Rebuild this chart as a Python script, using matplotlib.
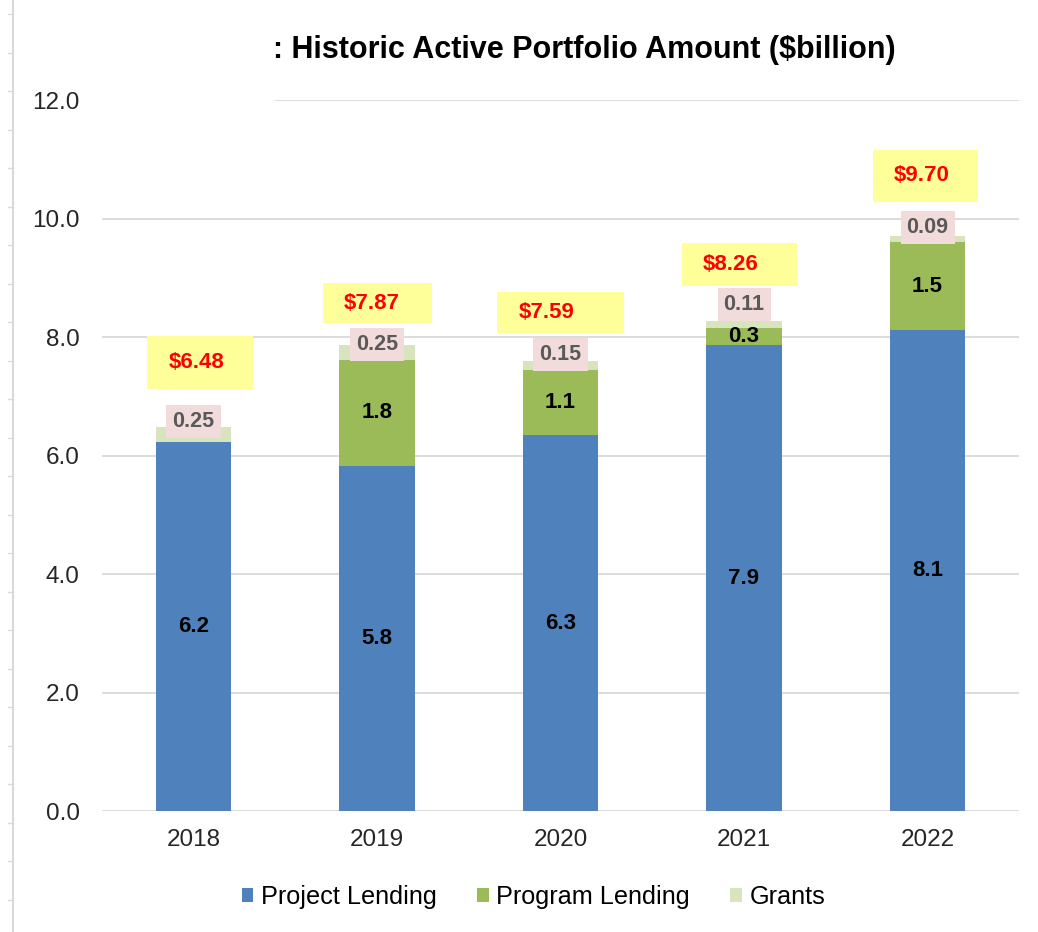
import matplotlib
matplotlib.use('Agg')
import matplotlib.pyplot as plt
from matplotlib.patches import Rectangle
from matplotlib.lines import Line2D
import numpy as np

plt.rcParams['font.family'] = ['Liberation Sans', 'DejaVu Sans']

# ---------------------------------------------------------------------------
# Data ($billion)
# ---------------------------------------------------------------------------
years = ['2018', '2019', '2020', '2021', '2022']
project = [6.23, 5.82, 6.34, 7.86, 8.11]
program = [0.0, 1.8, 1.1, 0.3, 1.5]
grants = [0.25, 0.25, 0.15, 0.11, 0.09]
totals = [6.48, 7.87, 7.59, 8.26, 9.70]

# label layout (hand placed in the original)
GRANT_DY = [0.10, 0.01, 0.12, 0.29, 0.15]
TOTAL_BOX = [(-0.251, 0.573, 7.12, 8.02),
             (-0.294, 0.594, 8.23, 8.91),
             (-0.344, 0.692, 8.07, 8.76),
             (-0.338, 0.627, 8.86, 9.59),
             (-0.300, 0.573, 10.28, 11.16)]

C_PROJ = '#4f81bd'
C_PROG = '#9bbb59'
C_GRANT = '#d7e4bd'
C_GRID = '#d9d9d9'

fig = plt.figure(figsize=(10.38, 9.32), dpi=100)
ax = fig.add_axes([0.098, 0.1298, 0.884, 0.7629])

x = np.arange(len(years))
w = 0.41
proj = np.array(project)
prog = np.array(program)
gr = np.array(grants)

ax.bar(x, proj, w, color=C_PROJ, label='Project Lending', zorder=2)
ax.bar(x, prog, w, bottom=proj, color=C_PROG, label='Program Lending', zorder=2)
ax.bar(x, gr, w, bottom=proj + prog, color=C_GRANT, label='Grants', zorder=2)

ax.set_xlim(-0.5, len(years) - 0.5)
ax.set_ylim(0, 12)
yt = np.arange(0, 12.1, 2)
ax.set_yticks(yt)
ax.set_yticklabels([f'{v:.1f}' for v in yt])
ax.set_xticks(x)
ax.set_xticklabels(years)
ax.tick_params(axis='y', length=0, pad=16, labelsize=17.5, colors='#262626')
ax.tick_params(axis='x', length=0, pad=13, labelsize=17.5, colors='#262626')
for s in ax.spines.values():
    s.set_visible(False)

# gridlines (top one is partly hidden behind the title area in the original)
for v in yt:
    xmin = 0.19 if v == 12 else 0.0
    ax.axhline(v, xmin=xmin, xmax=1, color=C_GRID, lw=1.3, zorder=1)

# segment labels
for i in range(len(years)):
    ax.text(x[i], proj[i] / 2, f'{proj[i]:.1f}', ha='center', va='center',
            fontsize=16, fontweight='bold', color='black', zorder=4)
    if prog[i] > 0:
        ax.text(x[i], proj[i] + prog[i] / 2, f'{prog[i]:.1f}', ha='center',
                va='center', fontsize=16, fontweight='bold', color='black', zorder=4)
    ax.text(x[i], totals[i] + GRANT_DY[i], f'{gr[i]:.2f}', ha='center',
            va='center', fontsize=15.5, fontweight='bold', color='#595959', zorder=5,
            bbox=dict(boxstyle='square,pad=0.28', fc='#f2dcdb', ec='none'))

    bx, bw, y0, y1 = TOTAL_BOX[i]
    ax.add_patch(Rectangle((x[i] + bx, y0), bw, y1 - y0, fc='#ffff99',
                           ec='none', zorder=5))
    ax.text(x[i] + bx + 0.115, (y0 + y1) / 2, f'${totals[i]:.2f}', ha='left',
            va='center', fontsize=16, fontweight='bold', color='#ff0000', zorder=6)

# title (left part cut off in the source)
fig.text(273 / 1038, 1 - 50 / 932, ': Historic Active Portfolio Amount ($billion)',
         ha='left', va='center', fontsize=22, fontweight='bold', color='black')

# legend
fig.legend(loc='center', bbox_to_anchor=(0.514, 1 - 897 / 932), ncol=3,
           frameon=False, fontsize=18.2, handlelength=0.45, handleheight=0.45,
           handletextpad=0.3, columnspacing=1.6)

# ruler-like line at the left edge of the screenshot
lx = 13 / 1038
fig.add_artist(Line2D([lx, lx], [0, 1], transform=fig.transFigure,
                      color=C_GRID, lw=1.5))
for py in np.arange(14, 932, 38.5):
    fy = 1 - py / 932
    fig.add_artist(Line2D([lx - 5 / 1038, lx], [fy, fy], transform=fig.transFigure,
                          color=C_GRID, lw=1.0))

fig.savefig('out.png', dpi=100)
